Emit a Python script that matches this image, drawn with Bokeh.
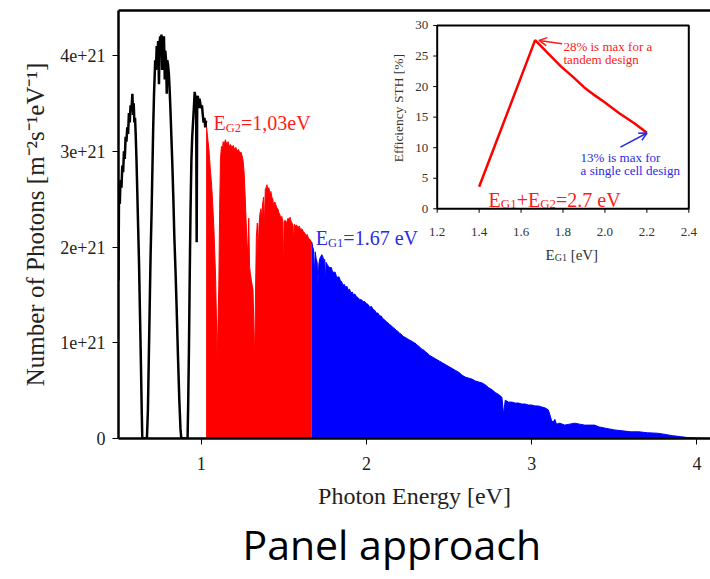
import numpy as np
from bokeh.plotting import figure
from bokeh.models import Range1d, FixedTicker, LinearAxis, Title, Arrow, OpenHead
from bokeh.core.properties import value
from bokeh.embed import file_html
from bokeh.resources import INLINE

# ---------------- data ----------------
eg2 = 1.03
eg1 = 1.67

# photon flux in units of 1e21 m^-2 s^-1 eV^-1, below E_G2 (not absorbed)
black_e = [0.500, 0.503, 0.508, 0.512, 0.518, 0.523, 0.528, 0.533, 0.538, 0.543, 0.548, 0.553,
           0.558, 0.563, 0.568, 0.573, 0.578, 0.584, 0.588, 0.592, 0.596, 0.600, 0.604, 0.609,
           0.614, 0.619, 0.624, 0.630, 0.636, 0.641, 0.644, 0.672, 0.678, 0.684, 0.689, 0.694,
           0.700, 0.705, 0.710, 0.715, 0.722, 0.727, 0.731, 0.736, 0.740, 0.745, 0.748, 0.752,
           0.756, 0.760, 0.764, 0.767, 0.771, 0.775, 0.780, 0.783, 0.788, 0.792, 0.795, 0.800,
           0.805, 0.810, 0.815, 0.820, 0.826, 0.832, 0.838, 0.845, 0.852, 0.860, 0.868, 0.875,
           0.880, 0.918, 0.922, 0.926, 0.931, 0.936, 0.941, 0.946, 0.951, 0.956, 0.961, 0.966,
           0.970, 0.973, 0.976, 0.980, 0.985, 0.990, 0.995, 1.000, 1.005, 1.010, 1.015, 1.020,
           1.025, 1.030]
black_n = [1.65, 2.55, 2.45, 2.70, 2.62, 2.85, 2.78, 3.00, 2.92, 3.15, 3.10, 3.25,
           3.18, 3.40, 3.30, 3.48, 3.42, 3.60, 3.38, 3.50, 3.30, 3.35, 3.18, 2.90,
           2.55, 2.20, 1.85, 1.30, 0.75, 0.25, 0.00, 0.00, 0.30, 0.90, 1.40, 1.90,
           2.35, 2.80, 3.25, 3.60, 3.95, 3.85, 4.10, 4.02, 4.15, 3.70, 4.12, 4.20,
           4.05, 4.22, 3.85, 4.18, 4.10, 4.20, 3.75, 4.05, 3.95, 3.60, 3.95, 3.90,
           3.80, 3.62, 3.40, 3.15, 2.85, 2.50, 2.10, 1.75, 1.35, 0.85, 0.40, 0.10,
           0.00, 0.00, 0.40, 0.90, 1.70, 2.40, 2.90, 3.15, 3.30, 3.45, 3.62, 3.55,
           3.40, 2.05, 3.50, 3.58, 3.45, 3.55, 3.50, 3.45, 3.48, 3.38, 3.30, 3.35,
           3.25, 3.32]

# absorbed by the E_G2 cell
red_e = [1.030, 1.036, 1.042, 1.047, 1.052, 1.057, 1.062, 1.067, 1.072, 1.077, 1.082, 1.087,
         1.092, 1.097, 1.102, 1.107, 1.112, 1.117, 1.123, 1.128, 1.133, 1.140, 1.147, 1.155,
         1.163, 1.170, 1.178, 1.186, 1.194, 1.202, 1.210, 1.218, 1.226, 1.234, 1.242, 1.248,
         1.254, 1.260, 1.266, 1.272, 1.277, 1.282, 1.288, 1.293, 1.298, 1.304, 1.309, 1.314,
         1.319, 1.324, 1.329, 1.334, 1.340, 1.345, 1.350, 1.356, 1.362, 1.368, 1.372, 1.378,
         1.383, 1.388, 1.393, 1.398, 1.404, 1.410, 1.416, 1.422, 1.428, 1.434, 1.440, 1.446,
         1.452, 1.458, 1.464, 1.470, 1.476, 1.482, 1.488, 1.494, 1.498, 1.502, 1.508, 1.514,
         1.520, 1.526, 1.532, 1.538, 1.544, 1.550, 1.556, 1.560, 1.564, 1.570, 1.578, 1.586,
         1.594, 1.602, 1.610, 1.618, 1.626, 1.634, 1.642, 1.650, 1.658, 1.664, 1.670]
red_n = [3.32, 3.20, 3.10, 3.02, 2.90, 2.78, 2.68, 2.55, 2.38, 2.20, 1.95, 1.72,
         1.30, 0.81, 1.20, 1.60, 2.40, 2.92, 3.05, 3.00, 3.10, 3.08, 3.12, 3.07,
         3.10, 3.05, 3.07, 3.04, 3.06, 3.02, 3.04, 3.00, 3.02, 2.98, 2.99, 2.95,
         2.90, 2.78, 2.55, 2.28, 2.05, 1.93, 2.30, 1.80, 1.72, 1.65, 1.60, 1.55,
         1.20, 0.81, 1.50, 2.10, 2.25, 1.90, 2.22, 2.35, 2.40, 2.30, 2.45, 2.52,
         2.20, 2.60, 2.62, 2.65, 2.60, 2.62, 2.56, 2.58, 2.52, 2.50, 2.40, 2.47,
         2.44, 2.41, 2.40, 2.36, 2.34, 2.30, 2.32, 2.27, 1.72, 2.26, 2.28, 2.25,
         2.27, 2.30, 2.28, 2.31, 2.27, 2.25, 2.22, 2.05, 2.24, 2.22, 2.23, 2.20,
         2.22, 2.18, 2.19, 2.16, 2.15, 2.12, 2.13, 2.09, 2.08, 2.06, 2.05]

# absorbed by the E_G1 cell
blue_e = [1.670, 1.675, 1.680, 1.685, 1.690, 1.696, 1.702, 1.707, 1.712, 1.718, 1.724, 1.730,
          1.736, 1.742, 1.748, 1.752, 1.756, 1.762, 1.770, 1.778, 1.786, 1.794, 1.802, 1.810,
          1.818, 1.826, 1.834, 1.842, 1.850, 1.858, 1.866, 1.874, 1.882, 1.890, 1.898, 1.906,
          1.914, 1.922, 1.930, 1.940, 1.950, 1.960, 1.970, 1.980, 1.990, 2.000, 2.010, 2.020,
          2.030, 2.040, 2.050, 2.060, 2.070, 2.080, 2.090, 2.100, 2.110, 2.120, 2.130, 2.140,
          2.150, 2.160, 2.170, 2.180, 2.190, 2.200, 2.210, 2.220, 2.230, 2.240, 2.250, 2.260,
          2.270, 2.280, 2.290, 2.300, 2.310, 2.320, 2.330, 2.340, 2.350, 2.360, 2.370, 2.380,
          2.390, 2.400, 2.42, 2.44, 2.46, 2.48, 2.50, 2.52, 2.54, 2.56, 2.58, 2.60,
          2.62, 2.64, 2.66, 2.68, 2.70, 2.72, 2.74, 2.76, 2.78, 2.80, 2.82, 2.83,
          2.84, 2.86, 2.88, 2.90, 2.92, 2.94, 2.96, 2.98, 3.00, 3.02, 3.04, 3.06,
          3.08, 3.10, 3.11, 3.12, 3.13, 3.14, 3.15, 3.17, 3.20, 3.23, 3.26, 3.29,
          3.32, 3.35, 3.38, 3.41, 3.44, 3.47, 3.50, 3.55, 3.60, 3.65, 3.70, 3.76,
          3.80, 3.85, 3.90, 3.94, 4.00, 4.08]
blue_n = [2.05, 2.00, 1.97, 1.70, 1.95, 1.88, 1.84, 1.60, 1.82, 1.88, 1.90, 1.92,
          1.90, 1.86, 1.87, 1.62, 1.84, 1.82, 1.80, 1.78, 1.79, 1.75, 1.73, 1.74,
          1.70, 1.68, 1.69, 1.65, 1.64, 1.60, 1.61, 1.58, 1.59, 1.55, 1.56, 1.52,
          1.53, 1.50, 1.51, 1.48, 1.47, 1.45, 1.45, 1.43, 1.43, 1.41, 1.40, 1.37,
          1.38, 1.35, 1.34, 1.31, 1.31, 1.28, 1.28, 1.25, 1.24, 1.22, 1.21, 1.19,
          1.18, 1.16, 1.15, 1.13, 1.12, 1.10, 1.09, 1.07, 1.06, 1.05, 1.04, 1.03,
          1.02, 1.01, 1.00, 0.99, 0.97, 0.96, 0.94, 0.93, 0.92, 0.90, 0.89, 0.87,
          0.86, 0.85, 0.83, 0.81, 0.79, 0.77, 0.75, 0.73, 0.71, 0.69, 0.66, 0.64,
          0.63, 0.62, 0.60, 0.59, 0.58, 0.56, 0.53, 0.51, 0.48, 0.46, 0.43, 0.25,
          0.40, 0.38, 0.38, 0.37, 0.37, 0.36, 0.36, 0.35, 0.35, 0.34, 0.34, 0.33,
          0.32, 0.30, 0.25, 0.19, 0.17, 0.20, 0.15, 0.16, 0.14, 0.15, 0.16, 0.15,
          0.14, 0.14, 0.14, 0.12, 0.11, 0.10, 0.09, 0.08, 0.07, 0.07, 0.06, 0.055,
          0.045, 0.03, 0.02, 0.01, 0.005, 0.0]

x_ticks = [1, 2, 3, 4]
y_ticks = [0, 1, 2, 3, 4]
y_tick_labels = ["0", "1e+21", "2e+21", "3e+21", "4e+21"]

# inset: solar-to-hydrogen efficiency vs E_G1 (E_G1 + E_G2 = 2.7 eV)
inset_eg1 = [1.40, 1.667, 1.73, 1.79, 1.85, 1.90, 1.95, 2.00, 2.07, 2.14, 2.20]
inset_sth = [3.6, 27.6, 25.4, 23.3, 21.5, 19.9, 18.6, 17.4, 15.6, 14.0, 12.45]
inset_x_ticks = [1.2, 1.4, 1.6, 1.8, 2.0, 2.2, 2.4]
inset_x_labels = ["1.2", "1.4", "1.6", "1.8", "2.0", "2.2", "2.4"]
inset_y_ticks = [0, 5, 10, 15, 20, 25, 30]
inset_y_labels = ["0", "5", "10", "15", "20", "25", "30"]

# ---------------- figure ----------------
SERIF = "Liberation Serif"
p = figure(frame_width=592, frame_height=428,
           x_range=Range1d(0.5, 4.082), y_range=Range1d(0, 4.47),
           output_backend="svg", toolbar_location=None,
           min_border_left=118, min_border_right=0, min_border_top=10, min_border_bottom=0)
p.outline_line_color = None
p.grid.visible = False
p.background_fill_color = "white"
p.border_fill_color = "white"

xax = p.below[0]
yax = p.left[0]
for ax in (xax, yax):
    ax.axis_line_width = 2.5
    ax.axis_line_color = "black"
    ax.major_tick_in = 0
    ax.major_tick_out = 6
    ax.major_tick_line_width = 1
    ax.minor_tick_line_color = None
    ax.major_label_text_font = SERIF
    ax.major_label_text_font_size = "18px"
    ax.major_label_text_color = "#222222"
    ax.axis_label_text_font = SERIF
    ax.axis_label_text_font_style = "normal"
    ax.axis_label_text_color = "#222222"
xax.ticker = FixedTicker(ticks=x_ticks)
yax.ticker = FixedTicker(ticks=y_ticks)
yax.major_label_overrides = {t: lab for t, lab in zip(y_ticks, y_tick_labels)}
xax.major_label_standoff = 12
yax.major_label_standoff = 7
xax.axis_label = "Photon Energy [eV]"
xax.axis_label_text_font_size = "24px"
xax.axis_label_standoff = 10
yax.axis_label = "Number of Photons [m\u207b\u00b2s\u207b\u00b9eV\u207b\u00b9]"
yax.axis_label_text_font_size = "25px"
yax.axis_label_standoff = 8

top_ax = LinearAxis(ticker=FixedTicker(ticks=[]), axis_line_width=2.5, axis_line_color="black",
                    major_tick_line_color=None, minor_tick_line_color=None,
                    major_label_text_font_size="0px")
p.add_layout(top_ax, "above")

p.add_layout(Title(text="Panel approach", align="left", offset=124, standoff=4,
                   text_font="Open Sans", text_font_size="41px", text_font_style="normal",
                   text_color="black"), "below")

# spectrum
p.varea(x=red_e, y1=0, y2=red_n, fill_color="#ff0000")
p.line(red_e, red_n, line_color="#ff0000", line_width=1)
p.varea(x=blue_e, y1=0, y2=blue_n, fill_color="#0000ff")
p.line(blue_e, blue_n, line_color="#0000ff", line_width=1)
p.line(black_e, black_n, line_color="black", line_width=2.5)

W = {'E': .611, 'G': .722, '1': .5, '2': .5, '=': .564, '+': .564, ',': .25, '0': .5, '3': .5,
     'e': .444, 'V': .722, '.': .25, '6': .5, '7': .5, ' ': .25, '[': .333, ']': .333}


def tw(s, size):
    return sum(W.get(c, 0.5) for c in s) * size


def rich(x, y, pieces, color, big, small, drop, x_off=0.0, y_off=0.0, **rng):
    off = x_off
    for txt, is_sub in pieces:
        size = small if is_sub else big
        lead = len(txt) - len(txt.lstrip(" "))
        off += tw(" " * lead, size)
        txt = txt.lstrip(" ")
        p.text(x=[x], y=[y], text=[txt], x_offset=off, y_offset=y_off + (drop if is_sub else 0),
               text_font=value(SERIF), text_font_size=value(f"{size}px"), text_color=color,
               text_align="left", text_baseline="alphabetic", **rng)
        off += tw(txt, size)


rich(eg2, 3.30, [("E", 0), ("G2", 1), ("=1,03eV", 0)], "#ff1a1a", 20, 12.5, 5, x_off=7.5)
rich(eg1, 2.09, [("E", 0), ("G1", 1), ("=1.67 eV", 0)], "#2a2ae6", 20, 12.5, 5, x_off=4)

# ---------------- inset (drawn on extra ranges) ----------------
p.extra_x_ranges = {"ix": Range1d(-0.320, 2.5035)}
p.extra_y_ranges = {"iy": Range1d(-37.59, 32.45)}
ins = dict(x_range_name="ix", y_range_name="iy")

p.quad(left=inset_x_ticks[0], right=inset_x_ticks[-1], bottom=inset_y_ticks[0], top=inset_y_ticks[-1],
       fill_color="white", line_color="black", line_width=2, **ins)
p.ray(x=inset_x_ticks, y=inset_y_ticks[0], length=4, length_units="screen", angle=-np.pi / 2,
      line_color="black", line_width=1, **ins)
p.ray(x=inset_x_ticks[0], y=inset_y_ticks, length=4, length_units="screen", angle=np.pi,
      line_color="black", line_width=1, **ins)
p.text(x=inset_x_ticks, y=inset_y_ticks[0], text=inset_x_labels, text_align="center",
       text_baseline="alphabetic", y_offset=23, text_font=value(SERIF), text_font_size=value("13px"),
       text_color="#333333", **ins)
p.text(x=inset_x_ticks[0], y=inset_y_ticks, text=inset_y_labels, text_align="right",
       text_baseline="middle", x_offset=-9, text_font=value(SERIF), text_font_size=value("13px"),
       text_color="#333333", **ins)
p.text(x=[inset_x_ticks[0]], y=[15], text=["Efficiency STH [%]"], angle=np.pi / 2,
       text_align="center", text_baseline="middle", x_offset=-39, y_offset=-9,
       text_font=value(SERIF), text_font_size=value("13.5px"), text_color="#333333", **ins)
rich(1.8, 0, [("E", 0), ("G1", 1), (" [eV]", 0)], "#333333", 15, 10, 3, x_off=-17.5, y_off=46, **ins)

p.line(inset_eg1, inset_sth, line_color="#ff0000", line_width=2.5, **ins)

rich(1.4, 1.5, [("E", 0), ("G1", 1), ("+E", 0), ("G2", 1), ("=2.7 eV", 0)], "#ff1a1a", 20, 13, 4,
     x_off=9.4, **ins)

p.text(x=[1.802, 1.802], y=[26.56, 26.56], text=["28% is max for a", "tandem design"],
       y_offset=[0, 13], text_align="left", text_baseline="alphabetic",
       text_font=value(SERIF), text_font_size=value("13px"), text_color="#ff1a1a", **ins)
p.text(x=[1.884, 1.884], y=[8.4, 8.4], text=["13% is max for", "a single cell design"],
       y_offset=[0, 13], text_align="left", text_baseline="alphabetic",
       text_font=value(SERIF), text_font_size=value("13px"), text_color="#2a2ae6", **ins)

p.add_layout(Arrow(end=OpenHead(size=8, line_color="#ff1a1a", line_width=1.5),
                   x_start=1.796, y_start=27.0, x_end=1.685, y_end=27.55,
                   line_color="#ff1a1a", line_width=1.5, **ins))
p.add_layout(Arrow(end=OpenHead(size=8, line_color="#2a2ae6", line_width=1.5),
                   x_start=2.074, y_start=10.1, x_end=2.201, y_end=12.4,
                   line_color="#2a2ae6", line_width=1.5, **ins))

open("out.html", "w").write(file_html(p, INLINE))
